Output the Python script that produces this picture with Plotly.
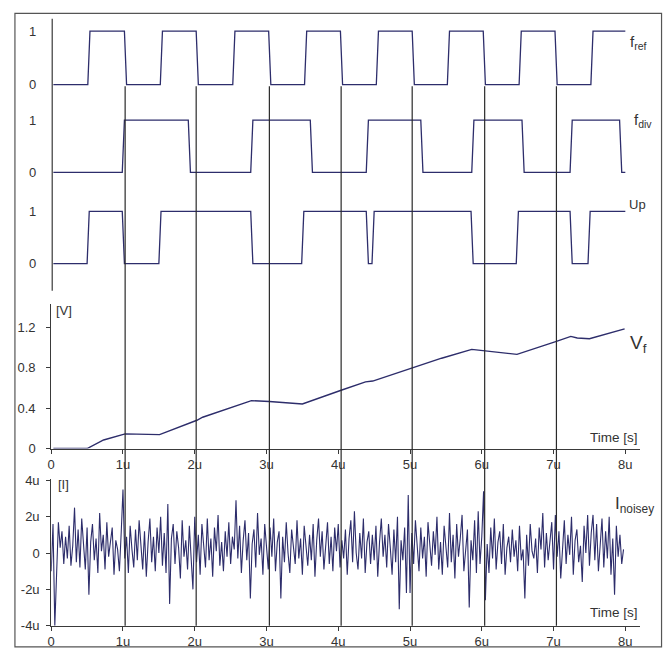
import plotly.graph_objects as go

W, H = 669, 650

# ---------------- data ----------------
t_start = 0.03
t_end = 8.0
edge_width = 0.03

# switching instants (start of each transition), signals start low
fref_edges = [0.51, 1.02, 1.52, 2.02, 2.53, 3.03, 3.53, 4.03, 4.53, 5.03,
              5.52, 6.02, 6.52, 7.02, 7.52]
fdiv_edges = [0.99, 1.91, 2.78, 3.61, 4.39, 5.15, 5.86, 6.56, 7.23, 7.92]
up_edges = [0.50, 0.99, 1.50, 2.78, 3.49, 4.39, 4.47, 5.85, 6.48, 7.23, 7.48]

vf_t = [0.03, 0.50, 0.73, 1.03, 1.51, 2.03, 2.11, 2.79, 3.04, 3.36, 3.50,
        4.04, 4.38, 4.48, 5.03, 5.44, 5.86, 6.04, 6.49, 7.04, 7.24, 7.33,
        7.50, 7.99]
vf_v = [0.0, 0.0, 0.085, 0.145, 0.138, 0.28, 0.31, 0.474, 0.465, 0.448, 0.441,
        0.577, 0.66, 0.668, 0.797, 0.894, 0.981, 0.968, 0.932, 1.061, 1.11, 1.094,
        1.087, 1.184]

# noisy current, in micro-amps, sampled every 0.025 us
i_noise = [
    -1.0, 1.6, -4.0, -0.5, 1.7, 0.3, 1.2, -0.6, 0.9, -0.3, 1.5, -0.7, 0.4, 2.5, -0.5, 1.3, -0.8, 1.9, 0.2, -0.9,
    1.4, -2.3, 0.6, 1.6, -0.4, 0.8, -1.1, 2.2, 0.1, 1.0, -0.9, 1.7, -0.2, 0.5, 1.4, -1.2, 0.7, 0.2, -1.0, 1.1,
    3.5, -0.3, 0.9, -1.1, 1.5, 0.2, -0.8, 1.3, -0.4, 1.8, 0.5, -0.9, 1.2, -1.3, 0.6, 1.9, -0.5, 0.9, -1.0, 1.4,
    0.0, 2.0, -0.7, 1.1, -1.1, 2.7, -2.8, 0.8, 1.6, -0.6, 1.2, 0.3, -1.4, 1.8, -0.2, 0.7, -0.9, 1.5, -0.3, -2.0,
    2.0, -0.5, 1.0, -1.2, 1.6, 0.2, -0.8, 1.9, -0.4, 0.8, -1.3, 1.4, 0.1, 2.1, -0.7, 0.6, -1.0, 1.2, -0.2, 1.7,
    -0.6, 0.9, 0.2, 2.9, -0.3, 1.5, -1.1, 0.7, 1.8, -0.4, 1.1, -2.5, 0.5, 1.3, -0.8, 2.2, -0.1, 0.8, -1.2, 1.6,
    0.3, -0.9, 1.4, -0.2, 1.9, -1.0, 0.6, 1.2, -2.5, 0.9, -0.5, 1.7, 0.0, -1.1, 1.3, 0.4, -0.6, 1.8, -0.3, 0.8,
    -1.2, 1.5, 0.2, -0.7, 1.0, -0.4, 1.6, -1.3, 0.7, 1.9, -0.2, 1.2, -0.9, 0.5, 1.7, -0.6, 0.9, -1.0, 1.4, 0.1,
    1.6, -0.8, 0.7, -0.3, 1.3, -1.2, 0.8, 1.8, -0.5, 2.3, 0.0, -0.9, 1.1, -0.3, 1.9, -1.1, 0.6, 1.2, -0.6, 1.0,
    -0.4, 1.5, -1.3, 0.6, 1.9, -0.2, 1.0, -0.8, 1.6, 0.3, -1.2, 1.3, -0.5, 2.0, -3.1, 0.7, -0.4, 1.4, -2.2, 3.2,
    -2.2, 1.1, -0.6, 1.8, 0.2, -1.0, 1.4, -0.3, 0.9, -1.3, 1.7, 0.4, -0.7, 1.2, -0.1, 2.0, -0.9, 0.6, -1.2, 1.5,
    0.1, -0.8, 2.2, -0.5, 1.0, -1.4, 1.6, -0.2, 0.8, 2.1, -1.0, 0.4, 1.3, -3.0, 0.7, -0.4, 1.8, -1.1, 2.3, -0.6,
    0.9, 3.4, -2.6, 0.5, -1.1, 1.4, -0.3, 1.9, -0.9, 0.6, 1.2, -0.6, 1.6, -1.2, 0.3, 0.9, -0.5, 1.3, -0.2, 0.7,
    -1.0, 1.5, -0.4, 0.2, -2.5, 1.0, -0.7, 1.6, 0.1, -0.3, 0.8, -1.1, 1.4, 0.2, 2.2, -0.8, 1.1, -0.4, 0.6, 1.7,
    -0.9, 2.1, -0.2, 1.2, -1.4, 0.5, 1.8, -0.6, 1.0, -0.1, 2.0, -1.2, 0.7, 1.3, -0.5, 0.4, -1.6, 1.5, 0.0, 2.1,
    -0.7, 1.1, 2.1, -0.4, 1.6, -1.0, 0.6, 1.9, -0.8, 1.2, -0.3, 2.0, -1.2, 0.8, -2.3, 1.5, -0.2, 1.0, -0.6, 0.2,
]
noise_dt = 0.025

marker_times = [1.03, 2.02, 3.04, 4.04, 5.03, 6.04, 7.04]

x_tickvals = [0, 1, 2, 3, 4, 5, 6, 7, 8]
x_ticktext = ["0", "1u", "2u", "3u", "4u", "5u", "6u", "7u", "8u"]
vf_tickvals = [0, 0.4, 0.8, 1.2]
vf_ticktext = ["0", "0.4", "0.8", "1.2"]
vf_minor_ticks = [0.2, 0.6, 1.0, 1.4]
i_tickvals = [-4, -2, 0, 2, 4]
i_ticktext = ["-4u", "-2u", "0", "2u", "4u"]
i_minor_ticks = [-3, -1, 1, 3]
dig_tickvals = [0, 1]
dig_ticktext = ["0", "1"]

# ---------------- styles ----------------
SIG = "#2d2d6b"
AX = "#3a3a3a"
TXT = "#333333"
FONT = "Liberation Sans, Arial, sans-serif"


def step(edges, level=0):
    xs, ys = [t_start], [level]
    for e in edges:
        xs += [e, e + edge_width]
        ys += [level, 1 - level]
        level = 1 - level
    xs.append(t_end)
    ys.append(level)
    return xs, ys


def px_x(p):
    return p / W


def px_y(p):
    return 1 - p / H


def dig_domain(py1, py0, pad=0.15):
    u = py0 - py1
    return [px_y(py0 + pad * u), px_y(py1 - pad * u)]


fig = go.Figure()

for edges, ya in [(fref_edges, "y"), (fdiv_edges, "y2"), (up_edges, "y3")]:
    xs, ys = step(edges)
    fig.add_trace(go.Scatter(x=xs, y=ys, mode="lines", xaxis="x", yaxis=ya,
                             line=dict(color=SIG, width=1.3), hoverinfo="skip"))

fig.add_trace(go.Scatter(x=vf_t, y=vf_v, mode="lines", xaxis="x2", yaxis="y4",
                         line=dict(color=SIG, width=1.4), hoverinfo="skip"))

i_t = [k * noise_dt for k in range(len(i_noise))]
fig.add_trace(go.Scatter(x=i_t, y=i_noise, mode="lines", xaxis="x3", yaxis="y5",
                         line=dict(color=SIG, width=1.1), hoverinfo="skip"))

XDOM = [px_x(47.5), px_x(639.5)]
XR = [0, 8.2]
VF_DOM = [px_y(452.3), px_y(304.6)]
VF_R = [0, 1.43]
I_DOM = [px_y(633.3), px_y(483.0)]
I_R = [-4, 4.1]

base_y = dict(showgrid=False, zeroline=False, tickfont=dict(size=13, color=TXT, family=FONT))
dig_y = dict(base_y, range=[-0.15, 1.15], tickvals=dig_tickvals, ticktext=dig_ticktext,
             showline=False, ticks="", ticklabelstandoff=14, fixedrange=True)

xcommon = dict(domain=XDOM, range=XR, showgrid=False, zeroline=False,
               tickvals=x_tickvals, ticktext=x_ticktext,
               tickfont=dict(size=13, color=TXT, family=FONT),
               showline=True, linecolor=AX, linewidth=1,
               ticks="outside", ticklen=4, tickcolor=AX)

minor_axis = dict(showgrid=False, zeroline=False, showline=False, showticklabels=False,
                  ticks="outside", ticklen=4, tickcolor=AX, tickmode="array")

fig.update_layout(
    width=W, height=H,
    margin=dict(l=0, r=0, t=0, b=0),
    paper_bgcolor="white", plot_bgcolor="rgba(0,0,0,0)",
    showlegend=False,
    font=dict(family=FONT, color=TXT, size=13),
    xaxis=dict(domain=XDOM, range=XR, visible=False, anchor="y3"),
    yaxis=dict(dig_y, domain=dig_domain(25.7, 80.3), anchor="x"),
    yaxis2=dict(dig_y, domain=dig_domain(116.7, 170.0), anchor="x"),
    yaxis3=dict(dig_y, domain=dig_domain(210.0, 263.3), anchor="x"),
    xaxis2=dict(xcommon, anchor="y4"),
    yaxis4=dict(base_y, domain=VF_DOM, range=VF_R,
                tickvals=vf_tickvals, ticktext=vf_ticktext,
                showline=True, linecolor=AX, linewidth=1,
                ticks="outside", ticklen=4, tickcolor=AX, ticklabelstandoff=8,
                anchor="x2"),
    yaxis6=dict(minor_axis, domain=VF_DOM, range=VF_R, tickvals=vf_minor_ticks,
                overlaying="y4", anchor="x2", side="left"),
    xaxis3=dict(xcommon, anchor="y5"),
    yaxis5=dict(base_y, domain=I_DOM, range=I_R,
                tickvals=i_tickvals, ticktext=i_ticktext,
                showline=True, linecolor=AX, linewidth=1,
                ticks="outside", ticklen=4, tickcolor=AX, ticklabelstandoff=4,
                anchor="x3"),
    yaxis7=dict(minor_axis, domain=I_DOM, range=I_R, tickvals=i_minor_ticks,
                overlaying="y5", anchor="x3", side="left"),
)

shapes = [
    # outer frame
    dict(type="rect", xref="paper", yref="paper", x0=px_x(11), x1=px_x(661.5),
         y0=px_y(655), y1=px_y(7.5), line=dict(color="#555555", width=1.2)),
    # left axis line of the digital panel
    dict(type="line", xref="paper", yref="paper", x0=px_x(48.5), x1=px_x(48.5),
         y0=px_y(291), y1=px_y(13), line=dict(color=AX, width=1.2)),
]
for mt in marker_times:
    shapes.append(dict(type="line", xref="x2", yref="paper", x0=mt, x1=mt,
                       y0=px_y(633.3), y1=px_y(82), line=dict(color="#2a2a2a", width=1.2)))
fig.update_layout(shapes=shapes)


def ann(text, x, y, size, xanchor="left"):
    return dict(text=text, x=px_x(x), y=px_y(y), xref="paper", yref="paper",
                xanchor=xanchor, yanchor="middle", showarrow=False,
                font=dict(size=size, color=TXT, family=FONT))


fig.update_layout(annotations=[
    ann("f<sub>ref</sub>", 628, 37, 15),
    ann("f<sub>div</sub>", 632, 117, 15),
    ann("Up", 627, 203, 13),
    ann("V<sub>f</sub>", 628, 345, 19),
    ann("I<sub>noisey</sub>", 613, 510, 17),
    ann("[V]", 50, 311.5, 13),
    ann("[I]", 52, 489, 13),
    ann("Time [s]", 640, 441.5, 13.5, "right"),
    ann("Time [s]", 639.5, 620, 13.5, "right"),
])

fig.write_html("out.html")
